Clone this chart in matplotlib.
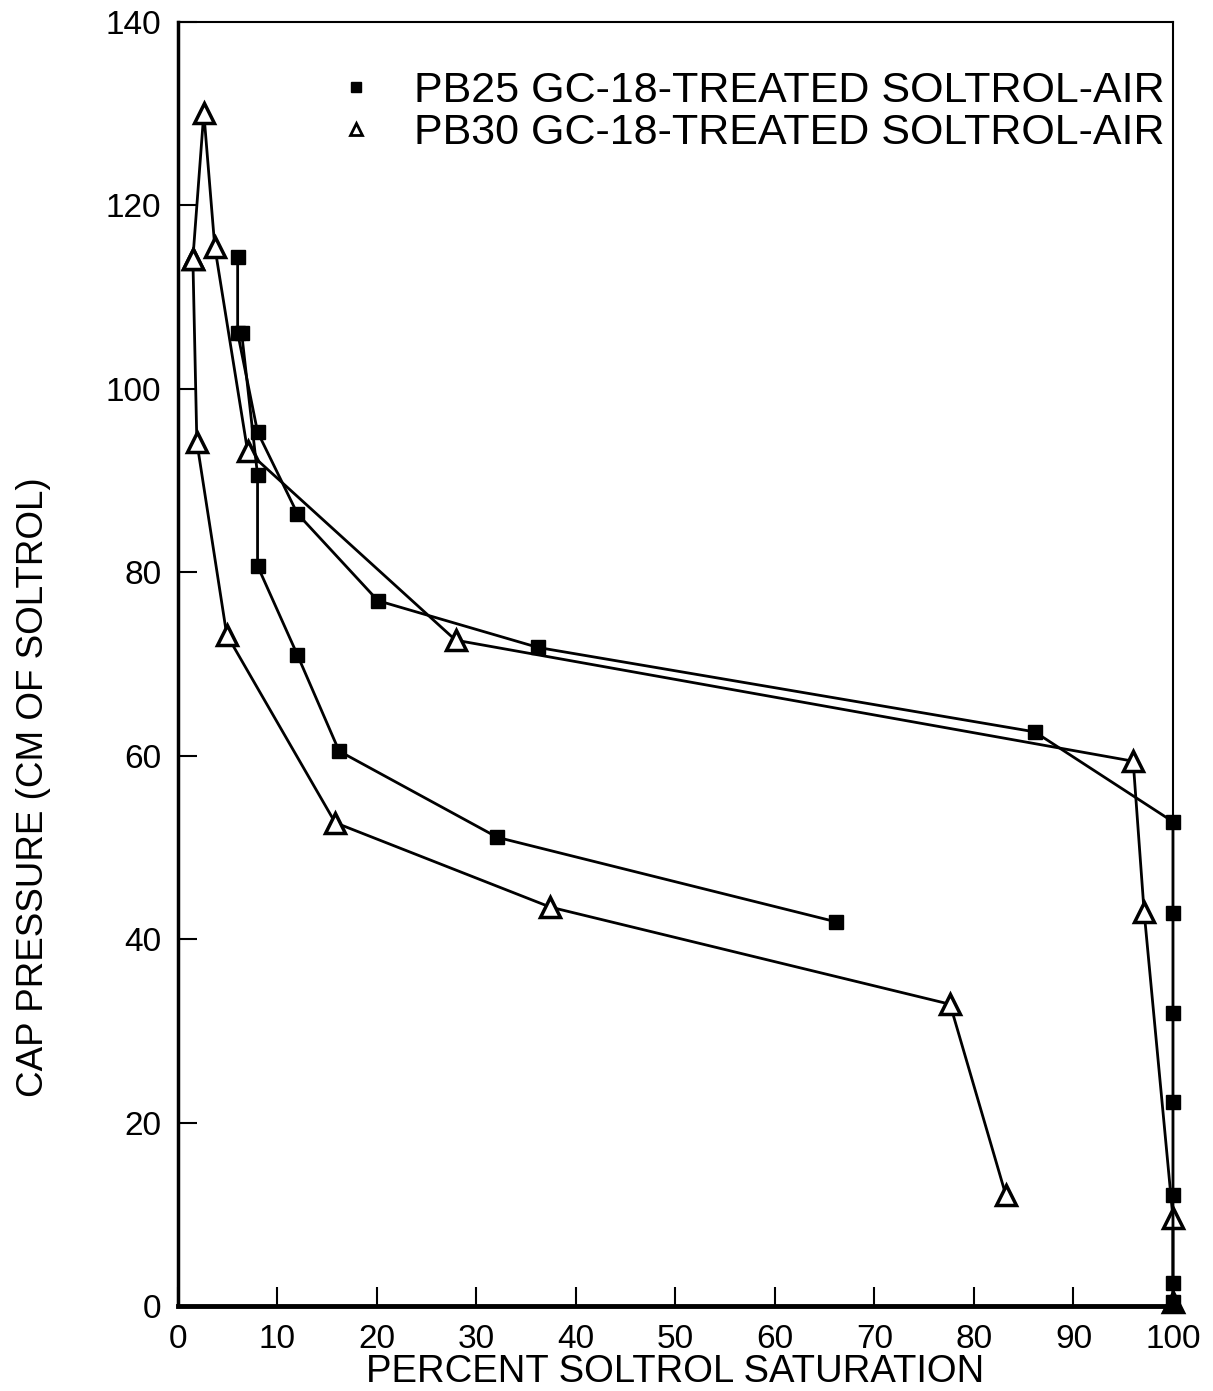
import matplotlib
matplotlib.use("Agg")
import matplotlib.pyplot as plt
from matplotlib.lines import Line2D

plt.rcParams['font.family'] = ['Liberation Sans', 'DejaVu Sans']

# PB25 curves (filled squares)
pb25_a_x = [6.0, 6.0, 8.0, 12.0, 20.1, 36.2, 86.1, 100, 100, 100, 100, 100, 100, 100]
pb25_a_y = [114.4, 106.1, 95.3, 86.4, 76.9, 71.8, 62.6, 52.8, 42.9, 32.0, 22.2, 12.1, 2.5, 0.4]
pb25_b_x = [6.4, 8.0, 8.0, 12.0, 16.2, 32.1, 66.1]
pb25_b_y = [106.1, 90.6, 80.7, 71.0, 60.5, 51.1, 41.9]

# PB30 curves (open triangles)
pb30_a_x = [1.5, 2.6, 3.7, 7.0, 27.9, 96.0, 97.1, 100, 100]
pb30_a_y = [114.2, 130.1, 115.5, 93.2, 72.6, 59.4, 43.0, 9.6, 0.4]
pb30_b_x = [1.5, 1.9, 4.9, 15.8, 37.4, 77.6, 83.2]
pb30_b_y = [114.2, 94.2, 73.2, 52.7, 43.5, 32.9, 12.1]

legend_labels = ['PB25 GC-18-TREATED SOLTROL-AIR', 'PB30 GC-18-TREATED SOLTROL-AIR']
x_ticks = [0, 10, 20, 30, 40, 50, 60, 70, 80, 90, 100]
y_ticks = [0, 20, 40, 60, 80, 100, 120, 140]

fig = plt.figure(figsize=(12.13, 13.91), dpi=100)
ax = fig.add_axes([0.1467, 0.0611, 0.8203, 0.9231])

sq = dict(color='black', lw=2, marker='s', ms=10, mfc='black', mec='black', clip_on=False)
tri = dict(color='black', lw=2, marker='^', ms=15, mfc='white', mec='black', mew=2.5, clip_on=False)

ax.plot(pb30_a_x, pb30_a_y, **tri)
ax.plot(pb30_b_x, pb30_b_y, **tri)
ax.plot(pb25_a_x, pb25_a_y, **sq)
ax.plot(pb25_b_x, pb25_b_y, **sq)
# filled triangle at the bottom corner
ax.plot([100], [0.4], marker='^', ms=14, color='black', clip_on=False)

ax.set_xlim(0, 100)
ax.set_ylim(0, 140)
ax.set_xticks(x_ticks)
ax.set_yticks(y_ticks)
ax.tick_params(direction='in', length=14, width=1.5, labelsize=24, pad=13)
ax.tick_params(axis='y', pad=12)

for side, w in [('left', 2.5), ('bottom', 3.5), ('top', 1.5), ('right', 1.5)]:
    ax.spines[side].set_linewidth(w)

ax.set_xlabel('PERCENT SOLTROL SATURATION', fontsize=27.5)
ax.set_ylabel('CAP PRESSURE (CM OF SOLTROL)', fontsize=26.5)
ax.xaxis.set_label_coords(0.5, -0.037)
ax.yaxis.set_label_coords(-0.128, 0.404)

handles = [Line2D([], [], ls='none', marker='s', ms=7, color='black'),
           Line2D([], [], ls='none', marker='^', ms=9, mfc='white', mec='black', mew=2)]
ax.legend(handles, legend_labels, loc='upper right', bbox_to_anchor=(0.992, 0.962),
          frameon=False, fontsize=31, handlelength=1.0, handletextpad=0.85,
          labelspacing=0.05, borderaxespad=0, borderpad=0)

fig.savefig('out.png', dpi=100)
